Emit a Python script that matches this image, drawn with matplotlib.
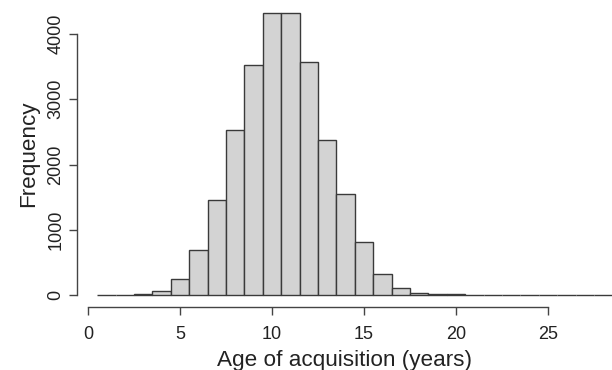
import numpy as np
import matplotlib.pyplot as plt

plt.rcParams['font.family'] = ['Liberation Sans', 'DejaVu Sans']

# histogram bins (1-year wide, centred on integers) and counts
bin_left = np.arange(0.5, 30.5, 1.0)
counts = [0, 0, 10, 60, 245, 690, 1450, 2535, 3520, 4315, 4315, 3575,
          2370, 1555, 810, 325, 100, 30, 15, 10, 3, 2, 1, 1, 1, 1, 1, 1, 1, 1]

x_ticks = [0, 5, 10, 15, 20, 25]
y_ticks = [0, 1000, 2000, 3000, 4000]

fig = plt.figure(figsize=(6.12, 3.70), dpi=100)
ax = fig.add_axes([76.7 / 612, 63.3 / 370, 1 - 76.7 / 612, 1 - 63.3 / 370])

ax.bar(bin_left, counts, width=1.0, align='edge', color='#d3d3d3',
       edgecolor='#3a3a3a', linewidth=1.0)

ax.set_xlim(-0.614, 28.48)
ax.set_ylim(-179, 4521)

for s in ['top', 'right']:
    ax.spines[s].set_visible(False)
ax.spines['left'].set_bounds(0, 4000)
ax.spines['bottom'].set_bounds(0, 25)
for s in ['left', 'bottom']:
    ax.spines[s].set_color('#444444')
    ax.spines[s].set_linewidth(1.0)

ax.set_xticks(x_ticks)
ax.set_yticks(y_ticks)
ax.tick_params(direction='out', length=6, width=1.0, color='#444444',
               labelsize=13, labelcolor='#222222')
ax.tick_params(axis='x', pad=8)
ax.tick_params(axis='y', pad=3)
for lab in ax.get_yticklabels():
    lab.set_rotation(90)
    lab.set_va('center')

ax.set_xlabel('Age of acquisition (years)', fontsize=16.2, color='#222222', labelpad=5)
ax.set_ylabel('Frequency', fontsize=16.2, color='#222222', labelpad=6)

fig.savefig('out.png', dpi=100)
